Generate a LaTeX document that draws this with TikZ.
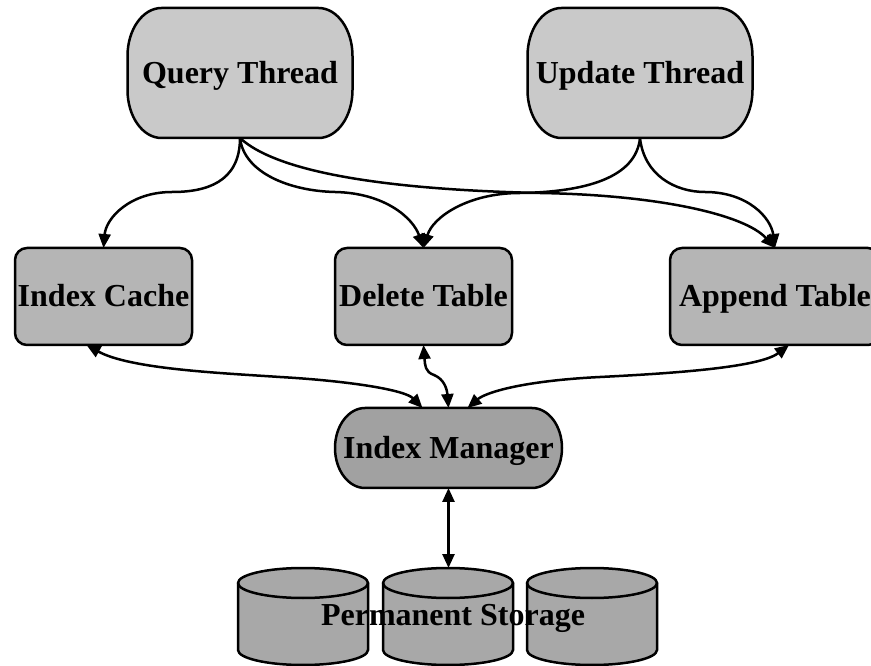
\documentclass[tikz,border=0pt]{standalone}
\usepackage{fontspec}
\setmainfont{Liberation Serif}
\usetikzlibrary{arrows.meta,backgrounds}

\definecolor{threadfill}{gray}{0.79}
\definecolor{tablefill}{gray}{0.71}
\definecolor{managerfill}{gray}{0.63}
\definecolor{diskfill}{gray}{0.66}

% outline with elliptical corners around a named node
\newcommand\ovalframe[4]{%
  \filldraw[fill=#4, line width=2.5pt]
    ([xshift=#2]#1.north west) -- ([xshift=-#2]#1.north east)
    arc[start angle=90, end angle=0, x radius=#2, y radius=#3]
    -- ([yshift=#3]#1.south east)
    arc[start angle=0, end angle=-90, x radius=#2, y radius=#3]
    -- ([xshift=#2]#1.south west)
    arc[start angle=270, end angle=180, x radius=#2, y radius=#3]
    -- ([yshift=-#3]#1.north west)
    arc[start angle=180, end angle=90, x radius=#2, y radius=#3]
    -- cycle;}

% one disk cylinder, centred at x = #1
\newcommand\disk[1]{%
  \filldraw[fill=diskfill, line width=2.5pt]
    (#1-65,82) -- (#1-65,15)
    arc[start angle=180, end angle=360, x radius=65, y radius=15]
    -- (#1+65,82)
    arc[start angle=0, end angle=180, x radius=65, y radius=15] -- cycle;
  \draw[line width=2.5pt] (#1-65,82)
    arc[start angle=180, end angle=360, x radius=65, y radius=15];}

\tikzset{
  lbl/.style={font=\fontsize{32}{36}\selectfont\bfseries, inner sep=0pt, outer sep=0pt,
              text height=24pt, text depth=3pt},
  thread/.style={lbl, minimum width=225pt, minimum height=130pt},
  tablebox/.style={lbl, draw, line width=2.5pt, fill=tablefill, rounded corners=12pt,
                   minimum height=97pt},
  manager/.style={lbl, minimum width=227pt, minimum height=80pt},
  link/.style={line width=2.5pt, -{Triangle[length=14pt,width=12pt]}},
  dlink/.style={line width=2.5pt, {Triangle[length=14pt,width=12pt]}-{Triangle[length=14pt,width=12pt]}},
}

\begin{document}
\begin{tikzpicture}[x=1pt, y=1pt]
  \clip (0,0) rectangle (871,665);

  % threads
  \node[thread] (qt) at (240,592) {Query Thread};
  \node[thread] (ut) at (640,592) {Update Thread};

  % shared tables
  \node[tablebox, minimum width=177pt] (ic) at (103.5,368.5) {Index Cache};
  \node[tablebox, minimum width=177pt] (dt) at (423.5,368.5) {Delete Table};
  \node[tablebox, minimum width=210pt] (at) at (775,368.5) {Append Table};

  % manager
  \node[manager] (im) at (448.5,217) {Index Manager};

  % storage
  \coordinate (storetop) at (448.5,97);
  \node[lbl, anchor=base] (store) at (453,40) {Permanent Storage};

  \begin{scope}[on background layer]
    \fill[white] (0,0) rectangle (871,665);
    \ovalframe{qt}{34pt}{48pt}{threadfill}
    \ovalframe{ut}{34pt}{48pt}{threadfill}
    \ovalframe{im}{30pt}{40pt}{managerfill}
    \disk{303}
    \disk{448}
    \disk{592}
  \end{scope}

  % thread access
  \draw[link] (qt.south) .. controls (240,482) and (205,473) .. (172,473)
              .. controls (130,473) and (106,447) .. (ic.north);
  \draw[link] (qt.south) .. controls (244,492) and (290,474) .. (335,473)
              .. controls (385,472) and (413,447) .. (dt.north);
  \draw[link] (qt.south) .. controls (280,490) and (400,475) .. (540,472)
              .. controls (660,470) and (745,450) .. (at.north);
  \draw[link] (ut.south) .. controls (636,487) and (585,473) .. (520,472)
              .. controls (468,472) and (433,448) .. (dt.north);
  \draw[link] (ut.south) .. controls (644,490) and (675,473) .. (705,473)
              .. controls (748,473) and (771,447) .. (at.north);

  % manager links
  \draw[dlink] ([xshift=-17pt]ic.south) .. controls (130,296) and (220,292) .. (280,288)
               .. controls (350,284) and (405,275) .. ([xshift=-26pt]im.north);
  \draw[dlink] (dt.south) .. controls (425,300) and (425,293) .. (434,290)
               .. controls (444,286) and (447,276) .. (im.north);
  \draw[dlink] ([xshift=14pt]at.south) .. controls (760,298) and (680,292) .. (600,288)
               .. controls (520,284) and (485,272) .. ([xshift=19pt]im.north);
  \draw[dlink] (im.south) -- (storetop);
\end{tikzpicture}
\end{document}
